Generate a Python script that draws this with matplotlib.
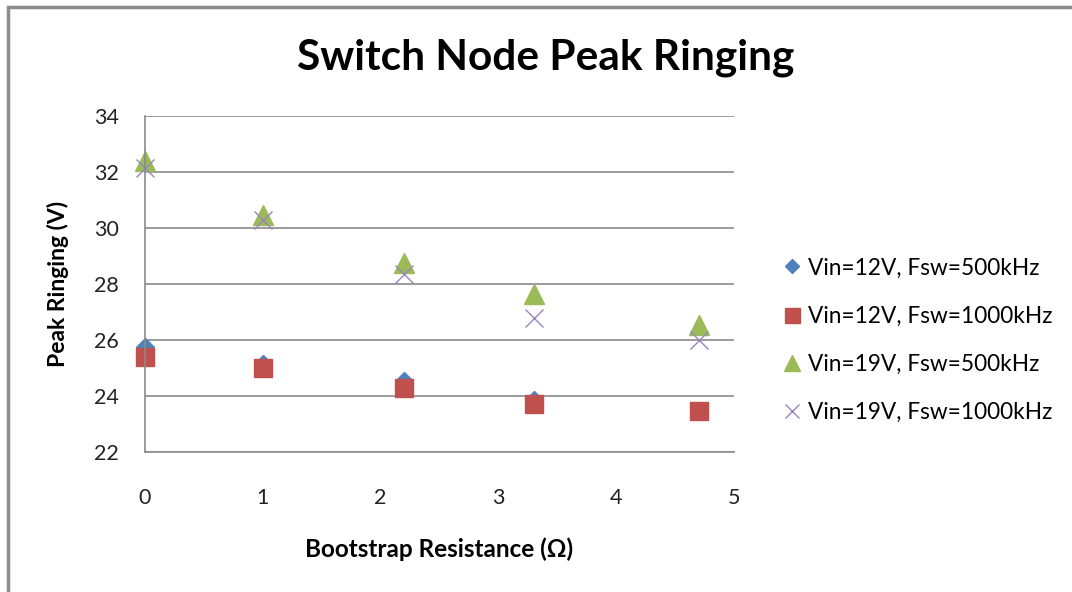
import numpy as np
import matplotlib.pyplot as plt
from matplotlib.lines import Line2D

plt.rcParams['font.family'] = ['Lato', 'DejaVu Sans']

# Bootstrap resistance (ohm)
r_boot = [0, 1, 2.2, 3.3, 4.7]

# Peak ringing (V) per condition
v12_500 = [25.75, 25.15, 24.55, 23.85, 23.45]
v12_1000 = [25.4, 25.0, 24.3, 23.7, 23.45]
v19_500 = [32.4, 30.45, 28.75, 27.65, 26.55]
v19_1000 = [32.15, 30.3, 28.35, 26.8, 26.0]

labels = ['Vin=12V, Fsw=500kHz', 'Vin=12V, Fsw=1000kHz',
          'Vin=19V, Fsw=500kHz', 'Vin=19V, Fsw=1000kHz']

W, H = 1072, 592
fig = plt.figure(figsize=(W / 100, H / 100), dpi=100)
fig.patch.set_facecolor('white')

# outer chart frame, only left and top edges are in view
fig.lines.append(Line2D([8 / W, 8 / W, 1.1], [-0.1, 1 - 6.5 / H, 1 - 6.5 / H],
                        transform=fig.transFigure, color='#8c8c8c',
                        linewidth=2.5, solid_joinstyle='miter',
                        solid_capstyle='butt'))

ax = fig.add_axes([145 / W, 1 - 452 / H, 589 / W, 336 / H])

ax.plot(r_boot, v12_500, linestyle='none', marker='D', color='#4F81BD',
        markersize=9, label=labels[0], clip_on=False)
ax.plot(r_boot, v12_1000, linestyle='none', marker='s', color='#C0504D',
        markersize=13.5, label=labels[1], clip_on=False)
ax.plot(r_boot, v19_500, linestyle='none', marker='^', color='#9BBB59',
        markersize=14, label=labels[2], clip_on=False)
ax.plot(r_boot, v19_1000, linestyle='none', marker='x', color='#9985BF',
        markersize=13, markeredgewidth=1.0, label=labels[3], clip_on=False)

ax.set_xlim(0, 5)
ax.set_ylim(22, 34)
ax.set_xticks(np.arange(0, 6, 1))
ax.set_yticks(np.arange(22, 35, 2))
ax.yaxis.grid(True, color='#8a8a8a', linewidth=1.2)
ax.set_axisbelow(True)
ax.tick_params(length=0, labelsize=15.5, colors='#222222')
ax.tick_params(axis='y', pad=19)
ax.tick_params(axis='x', pad=26)
for s in ['top', 'right']:
    ax.spines[s].set_visible(False)
for s in ['left', 'bottom']:
    ax.spines[s].set_color('#8a8a8a')
    ax.spines[s].set_linewidth(1.2)

ax.set_xlabel('Bootstrap Resistance (Ω)', fontsize=17.5, fontweight='bold',
              labelpad=21)
ax.set_ylabel('Peak Ringing (V)', fontsize=16.5, fontweight='bold',
              labelpad=18)

fig.text(546 / W, 1 - 58 / H, 'Switch Node Peak Ringing', fontsize=30.5,
         fontweight='bold', ha='center', va='center')

leg = ax.legend(loc='center left', bbox_to_anchor=(1.05, 0.333),
                frameon=False, fontsize=16.3, handlelength=0.7,
                handletextpad=0.35, labelspacing=1.2, markerscale=0.8)

fig.savefig('out.png', dpi=100)
